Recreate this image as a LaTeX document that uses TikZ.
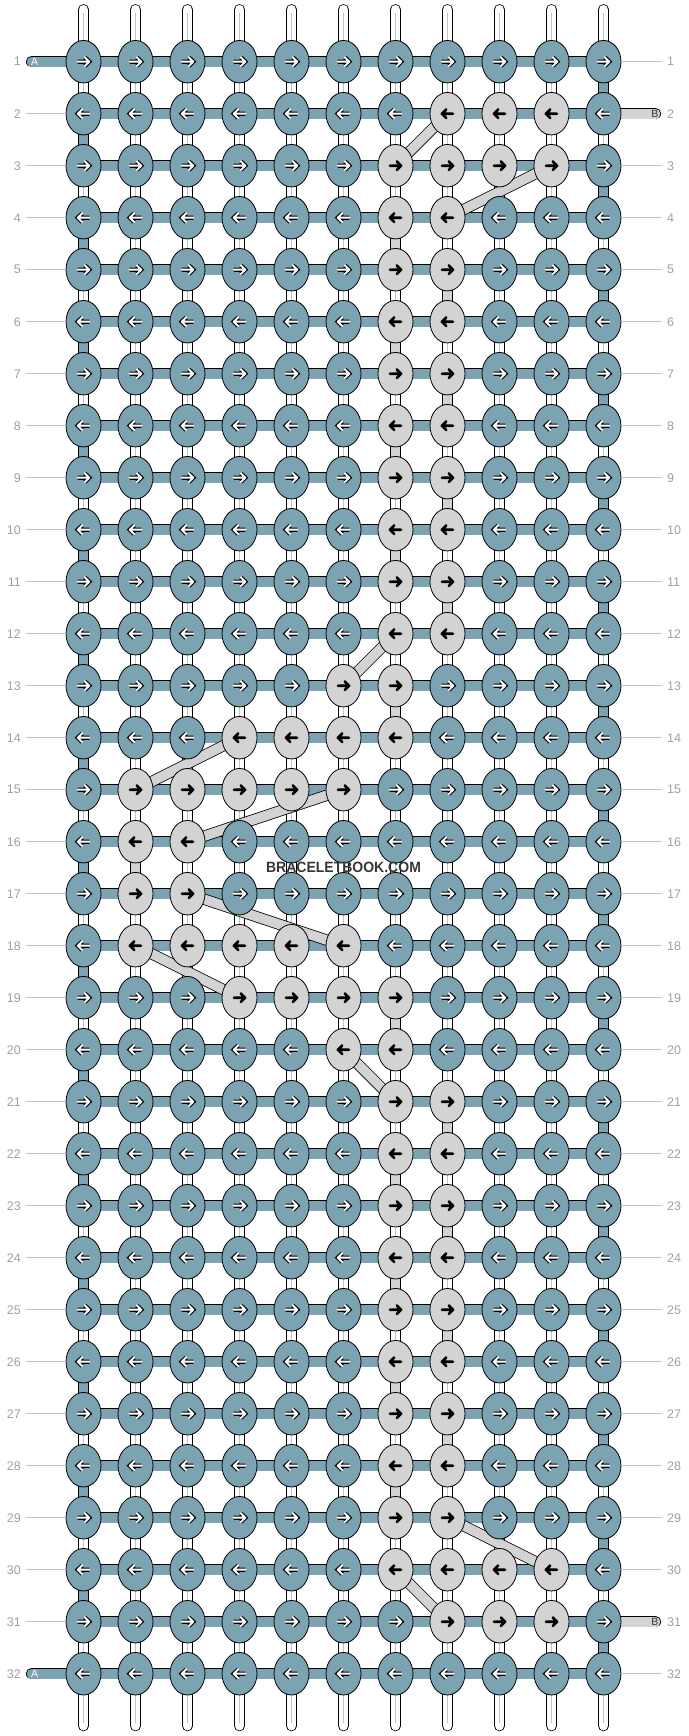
\documentclass[tikz,border=0pt]{standalone}
\usepackage{fontspec}
\newfontfamily\tagfont{Liberation Sans}
\usetikzlibrary{shapes.geometric}
\definecolor{knotteal}{RGB}{123,163,178}
\definecolor{knotgray}{RGB}{211,211,211}
\definecolor{rowgray}{RGB}{160,160,160}
\definecolor{linegray}{RGB}{195,195,195}
\definecolor{brandgray}{RGB}{55,55,55}
\pgfdeclarelayer{cords}
\pgfsetlayers{cords,main}

\begin{document}
\begin{tikzpicture}[x=52pt, y=-52pt]
  \tikzstyle{knot} = [ellipse, draw=black, line width=0.8pt, minimum width=35pt, minimum height=42.5pt, inner sep=0pt];
  \tikzstyle{teal_knot} = [knot, fill=knotteal];
  \tikzstyle{gray_knot} = [knot, fill=knotgray];
  \tikzstyle{dark_arrow} = [draw=black, line width=2.6pt, line cap=round, line join=round];
  \tikzstyle{light_arrow} = [draw=white, line width=2pt, line cap=round, line join=round, preaction={draw=black, line width=4.2pt}];
  \tikzstyle{strand} = [line width=0.8pt, double=white, double distance=9.6pt, line cap=round];
  \tikzstyle{strand_core} = [line width=0.8pt, draw=linegray, shorten <=3pt, shorten >=3pt];
  \tikzstyle{teal_bar} = [line width=0.8pt, double=knotteal, double distance=9.6pt];
  \tikzstyle{gray_bar} = [line width=0.8pt, double=knotgray, double distance=9.6pt];
  \tikzstyle{row_num} = [font=\tagfont\fontsize{12.5}{14}\selectfont, text=rowgray, inner xsep=5pt, inner ysep=0pt];
  \tikzstyle{label_line} = [draw=linegray, line width=0.8pt];
  \tikzstyle{end_tag} = [font=\tagfont\fontsize{10.5}{12}\selectfont, inner sep=0pt];
  \tikzstyle{brand} = [font=\tagfont\bfseries\fontsize{14.9}{16}\selectfont, text=brandgray, xscale=0.94, transform shape];

  \useasboundingbox (-0.6058,-0.1865) rectangle (12.625,33.198);

  % knots: row / first and last column of the B string
  \foreach \r/\a/\b in {1/0/0, 2/8/10, 3/7/10, 4/7/8, 5/7/8, 6/7/8, 7/7/8, 8/7/8,
                        9/7/8, 10/7/8, 11/7/8, 12/7/8, 13/6/7, 14/4/7, 15/2/6, 16/2/3,
                        17/2/3, 18/2/6, 19/4/7, 20/6/7, 21/7/8, 22/7/8, 23/7/8, 24/7/8,
                        25/7/8, 26/7/8, 27/7/8, 28/7/8, 29/7/8, 30/7/10, 31/8/10, 32/0/0} {
    \pgfmathtruncatemacro\d{isodd(\r) ? 1 : -1}
    \foreach \c in {1,...,11} {
      \pgfmathtruncatemacro\g{(\c>=\a) && (\c<=\b)}
      \ifnum\g=1
        \node[gray_knot] (k-\c-\r) at (\c,\r) {};
        \begin{scope}[shift={(k-\c-\r.center)}, xscale=\d]
          \draw[dark_arrow] (-5.6pt,0pt) -- (5.6pt,0pt) (1.2pt,4.3pt) -- (5.6pt,0pt) -- (1.2pt,-4.3pt);
        \end{scope}
      \else
        \node[teal_knot] (k-\c-\r) at (\c,\r) {};
        \begin{scope}[shift={(k-\c-\r.center)}, xscale=\d]
          \draw[light_arrow] (-5.8pt,0pt) -- (5.8pt,0pt) (1.4pt,4.3pt) -- (5.8pt,0pt) -- (1.4pt,-4.3pt);
        \end{scope}
      \fi
    }
  }

  % row numbers
  \foreach \r in {1,...,32} {
    \node[row_num, anchor=east] (ln-\r) at (-0.106,\r) {\r};
    \node[row_num, anchor=west] (rn-\r) at (12.125,\r) {\r};
  }
  \foreach \r in {2,...,31}
    \draw[label_line] (ln-\r.east) -- (k-1-\r.west);
  \foreach \r in {1,3,4,...,30,32}
    \draw[label_line] (k-11-\r.east) -- (rn-\r.west);

  % string ends
  \coordinate (aend-1) at (0,1);
  \coordinate (aend-32) at (0,32);
  \coordinate (bend-2) at (12,2);
  \coordinate (bend-31) at (12,31);
  \node[end_tag, text=white] (tag-a-1) at (0.06,1) {A};
  \node[end_tag, text=white] (tag-a-32) at (0.06,32) {A};
  \node[end_tag, text=brandgray] (tag-b-2) at (11.99,2) {B};
  \node[end_tag, text=brandgray] (tag-b-31) at (11.99,31) {B};

  \node[brand] (brand) at (6,16.5) {BRACELETBOOK.COM};

  \begin{pgfonlayer}{cords}
    % vertical strings
    \foreach \c in {1,...,11} {
      \coordinate (top-\c) at (\c,0);
      \coordinate (bot-\c) at (\c,33);
      \draw[strand] (top-\c) -- (bot-\c);
      \draw[strand_core] (top-\c) -- (bot-\c);
    }
    % B string ends
    \draw[gray_bar, line cap=round] (k-11-2.center) -- (bend-2);
    \draw[gray_bar, line cap=round] (k-11-31.center) -- (bend-31);
    % A string rows
    \foreach \r in {2,...,31}
      \draw[teal_bar] (k-1-\r.center) -- (k-11-\r.center);
    \draw[teal_bar, line cap=round] (aend-1) -- (k-11-1.center);
    \draw[teal_bar, line cap=round] (aend-32) -- (k-11-32.center);
    % A string turns
    \foreach \r [evaluate=\r as \n using int(\r+1)] in {1,3,...,31}
      \draw[teal_bar] (k-11-\r.center) -- (k-11-\n.center);
    \foreach \r [evaluate=\r as \n using int(\r+1)] in {2,4,...,30}
      \draw[teal_bar] (k-1-\r.center) -- (k-1-\n.center);
    % B string turns
    \foreach \c/\r [evaluate=\r as \n using int(\r+1)] in {7/4, 7/6, 7/8, 7/10, 7/13, 7/19, 7/22, 7/24, 7/26, 7/28,
                                                             8/5, 8/7, 8/9, 8/11, 8/21, 8/23, 8/25, 8/27, 2/16}
      \draw[gray_bar] (k-\c-\r.center) -- (k-\c-\n.center);
    % B string jumps
    \foreach \c/\r/\e/\s in {8/2/7/3, 10/3/8/4, 7/12/6/13, 4/14/2/15, 6/15/3/16,
                             3/17/6/18, 2/18/4/19, 6/20/7/21, 8/29/10/30, 7/30/8/31}
      \draw[gray_bar] (k-\c-\r.center) -- (k-\e-\s.center);
  \end{pgfonlayer}
\end{tikzpicture}
\end{document}
